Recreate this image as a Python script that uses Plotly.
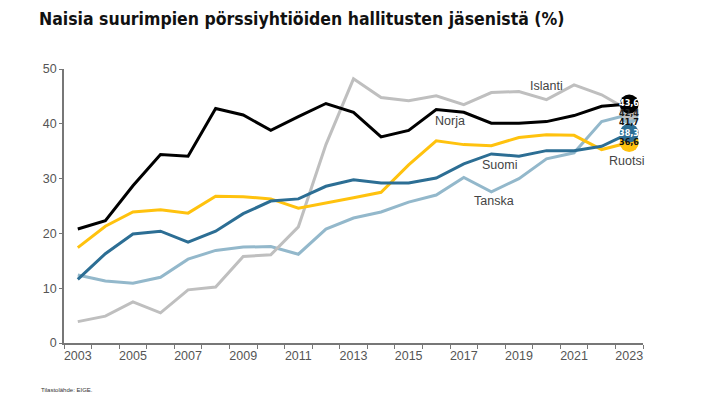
import plotly.graph_objects as go

years = list(range(2003, 2024))
norja = [20.8, 22.3, 28.7, 34.4, 34.1, 42.8, 41.6, 38.8, 41.3, 43.7, 42.1, 37.6, 38.8, 42.6, 42.1, 40.1, 40.1, 40.4, 41.5, 43.2, 43.6]
islanti = [3.9, 4.9, 7.5, 5.5, 9.7, 10.2, 15.8, 16.1, 21.2, 36.2, 48.2, 44.8, 44.2, 45.1, 43.5, 45.7, 45.9, 44.4, 47.1, 45.3, 42.4]
ruotsi = [17.4, 21.3, 23.9, 24.3, 23.7, 26.8, 26.7, 26.3, 24.6, 25.5, 26.5, 27.5, 32.5, 36.9, 36.2, 36.0, 37.5, 38.0, 37.9, 35.3, 36.6]
suomi = [11.6, 16.3, 19.9, 20.4, 18.4, 20.4, 23.6, 25.9, 26.3, 28.6, 29.8, 29.2, 29.2, 30.1, 32.7, 34.5, 34.1, 35.1, 35.1, 35.9, 38.3]
tanska = [12.4, 11.3, 10.9, 12.0, 15.3, 16.9, 17.5, 17.6, 16.2, 20.8, 22.8, 23.9, 25.7, 27.0, 30.2, 27.6, 30.0, 33.6, 34.7, 40.4, 41.7]

end_labels = {"Norja": "43,6", "Islanti": "42,4", "Tanska": "41,7", "Suomi": "38,3", "Ruotsi": "36,6"}
tick_years = [2003, 2005, 2007, 2009, 2011, 2013, 2015, 2017, 2019, 2021, 2023]
y_ticks = [0, 10, 20, 30, 40, 50]

series = [
    ("Tanska", tanska, "#93b8cb", "#111111", -8),
    ("Islanti", islanti, "#bfbfbf", "#222222", -2),
    ("Ruotsi", ruotsi, "#ffc20e", "#111111", 0),
    ("Suomi", suomi, "#2c6e94", "#ffffff", 0),
    ("Norja", norja, "#000000", "#ffffff", 1),
]

fig = go.Figure()
for name, vals, col, tcol, ys in series:
    fig.add_trace(go.Scatter(x=years, y=vals, mode="lines", name=name,
                             line=dict(color=col, width=3), hoverinfo="skip"))
for name, vals, col, tcol, ys in series:
    fig.add_trace(go.Scatter(x=[years[-1]], y=[vals[-1]], mode="markers",
                             marker=dict(color=col, size=19, line=dict(width=0)),
                             hoverinfo="skip"))
for name, vals, col, tcol, ys in series:
    fig.add_annotation(x=years[-1], y=vals[-1], text="<b>" + end_labels[name] + "</b>",
                       showarrow=False, yshift=ys,
                       font=dict(family="Liberation Sans Narrow, DejaVu Sans Condensed, Arial", size=9, color=tcol))

# series name labels
name_pos = [("Islanti", 2020.0, 46.9), ("Norja", 2016.5, 40.6), ("Suomi", 2018.3, 32.4),
            ("Tanska", 2018.1, 26.0), ("Ruotsi", 2022.9, 33.3)]
for nm, xx, yy in name_pos:
    fig.add_annotation(x=xx, y=yy, text=nm, showarrow=False,
                       font=dict(family="Liberation Sans, Arial", size=12.5, color="#444444"))

fig.add_annotation(xref="paper", yref="paper", x=0, y=1, xanchor="left", yanchor="top",
                   text="<b>Naisia suurimpien pörssiyhtiöiden hallitusten jäsenistä (%)</b>",
                   showarrow=False, xshift=-27, yshift=62,
                   font=dict(family="Liberation Sans Narrow, DejaVu Sans Condensed, Arial Narrow", size=17.5, color="#111111"))
fig.add_annotation(xref="paper", yref="paper", x=0, y=0, xanchor="left", yanchor="top",
                   text="Tilastolähde: EIGE.", showarrow=False, xshift=-25, yshift=-42,
                   font=dict(family="Liberation Sans Narrow, Arial", size=6, color="#333333"))

fig.update_layout(
    width=720, height=405,
    margin=dict(l=56, r=85, t=61, b=70),
    paper_bgcolor="white", plot_bgcolor="white",
    showlegend=False,
    font=dict(family="Liberation Sans, Arial", size=12.5, color="#555555"),
)
fig.update_xaxes(range=[2002.5, 2023.5], tickvals=tick_years, ticktext=[str(y) for y in tick_years],
                 ticks="", showgrid=False, zeroline=False, showline=True, linecolor="#777777", linewidth=1.5,
                 minor=dict(tick0=2002.5, dtick=1, ticks="outside", ticklen=4, tickcolor="#777777", showgrid=False),
                 tickfont=dict(color="#555555", size=12.5))
fig.update_yaxes(range=[0, 50], tickvals=y_ticks, ticks="outside", ticklen=3, tickcolor="#777777",
                 showgrid=False, zeroline=False, showline=True, linecolor="#777777", linewidth=1.5,
                 tickfont=dict(color="#555555", size=12.5))

fig.write_html("out.html")
